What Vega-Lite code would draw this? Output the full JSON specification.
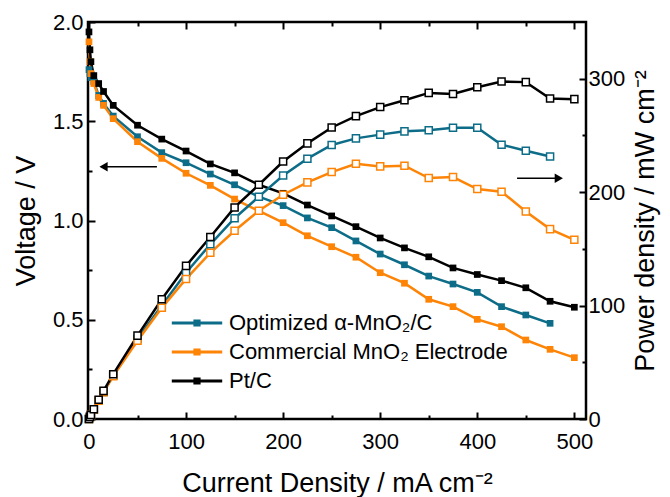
{
  "$schema": "https://vega.github.io/schema/vega-lite/v6.json",
  "width": 498,
  "height": 397,
  "autosize": {"type": "none"},
  "padding": {"left": 88, "top": 22, "right": 84, "bottom": 78},
  "config": {
    "view": {"stroke": "black", "strokeWidth": 2.5},
    "font": "Liberation Sans",
    "axis": {
      "grid": false,
      "domain": false,
      "labelFlush": false,
      "tickColor": "black",
      "tickWidth": 2,
      "labelFont": "Liberation Sans",
      "labelFontSize": 22,
      "labelColor": "black",
      "titleFont": "Liberation Sans",
      "titleFontSize": 27,
      "titleFontWeight": "normal",
      "titleColor": "black"
    }
  },
  "datasets": {
    "curves": [
      {"s": "Optimized α-MnO₂/C", "I": 0, "V": 1.76, "P": 0},
      {"s": "Optimized α-MnO₂/C", "I": 1, "V": 1.74, "P": 1.7},
      {"s": "Optimized α-MnO₂/C", "I": 2, "V": 1.72, "P": 3.4},
      {"s": "Optimized α-MnO₂/C", "I": 5, "V": 1.70, "P": 8.5},
      {"s": "Optimized α-MnO₂/C", "I": 10, "V": 1.63, "P": 16.3},
      {"s": "Optimized α-MnO₂/C", "I": 15, "V": 1.59, "P": 23.8},
      {"s": "Optimized α-MnO₂/C", "I": 25, "V": 1.526, "P": 38.2},
      {"s": "Optimized α-MnO₂/C", "I": 50, "V": 1.422, "P": 70.5},
      {"s": "Optimized α-MnO₂/C", "I": 75, "V": 1.342, "P": 100},
      {"s": "Optimized α-MnO₂/C", "I": 100, "V": 1.291, "P": 129},
      {"s": "Optimized α-MnO₂/C", "I": 125, "V": 1.234, "P": 154},
      {"s": "Optimized α-MnO₂/C", "I": 150, "V": 1.18, "P": 177},
      {"s": "Optimized α-MnO₂/C", "I": 175, "V": 1.12, "P": 196},
      {"s": "Optimized α-MnO₂/C", "I": 200, "V": 1.075, "P": 214.7},
      {"s": "Optimized α-MnO₂/C", "I": 225, "V": 1.013, "P": 229.5},
      {"s": "Optimized α-MnO₂/C", "I": 250, "V": 0.964, "P": 241.6},
      {"s": "Optimized α-MnO₂/C", "I": 275, "V": 0.897, "P": 247.4},
      {"s": "Optimized α-MnO₂/C", "I": 300, "V": 0.831, "P": 250.7},
      {"s": "Optimized α-MnO₂/C", "I": 325, "V": 0.777, "P": 253.6},
      {"s": "Optimized α-MnO₂/C", "I": 350, "V": 0.72, "P": 254.5},
      {"s": "Optimized α-MnO₂/C", "I": 375, "V": 0.68, "P": 256.8},
      {"s": "Optimized α-MnO₂/C", "I": 400, "V": 0.638, "P": 256.8},
      {"s": "Optimized α-MnO₂/C", "I": 425, "V": 0.566, "P": 241.8},
      {"s": "Optimized α-MnO₂/C", "I": 450, "V": 0.524, "P": 236.5},
      {"s": "Optimized α-MnO₂/C", "I": 475, "V": 0.482, "P": 231.5},
      {"s": "Commercial MnO₂ Electrode", "I": 0, "V": 1.90, "P": 0},
      {"s": "Commercial MnO₂ Electrode", "I": 1, "V": 1.80, "P": 1.8},
      {"s": "Commercial MnO₂ Electrode", "I": 2, "V": 1.74, "P": 3.5},
      {"s": "Commercial MnO₂ Electrode", "I": 5, "V": 1.69, "P": 8.4},
      {"s": "Commercial MnO₂ Electrode", "I": 10, "V": 1.62, "P": 16.2},
      {"s": "Commercial MnO₂ Electrode", "I": 15, "V": 1.58, "P": 23.7},
      {"s": "Commercial MnO₂ Electrode", "I": 25, "V": 1.513, "P": 37.8},
      {"s": "Commercial MnO₂ Electrode", "I": 50, "V": 1.397, "P": 69},
      {"s": "Commercial MnO₂ Electrode", "I": 75, "V": 1.313, "P": 98},
      {"s": "Commercial MnO₂ Electrode", "I": 100, "V": 1.238, "P": 123.5},
      {"s": "Commercial MnO₂ Electrode", "I": 125, "V": 1.177, "P": 146.5},
      {"s": "Commercial MnO₂ Electrode", "I": 150, "V": 1.108, "P": 166},
      {"s": "Commercial MnO₂ Electrode", "I": 175, "V": 1.048, "P": 183.6},
      {"s": "Commercial MnO₂ Electrode", "I": 200, "V": 0.989, "P": 197.7},
      {"s": "Commercial MnO₂ Electrode", "I": 225, "V": 0.923, "P": 208.6},
      {"s": "Commercial MnO₂ Electrode", "I": 250, "V": 0.868, "P": 217.7},
      {"s": "Commercial MnO₂ Electrode", "I": 275, "V": 0.815, "P": 225},
      {"s": "Commercial MnO₂ Electrode", "I": 300, "V": 0.737, "P": 222.7},
      {"s": "Commercial MnO₂ Electrode", "I": 325, "V": 0.684, "P": 223.3},
      {"s": "Commercial MnO₂ Electrode", "I": 350, "V": 0.603, "P": 212.4},
      {"s": "Commercial MnO₂ Electrode", "I": 375, "V": 0.566, "P": 213.3},
      {"s": "Commercial MnO₂ Electrode", "I": 400, "V": 0.502, "P": 202.7},
      {"s": "Commercial MnO₂ Electrode", "I": 425, "V": 0.465, "P": 200.4},
      {"s": "Commercial MnO₂ Electrode", "I": 450, "V": 0.398, "P": 183},
      {"s": "Commercial MnO₂ Electrode", "I": 475, "V": 0.351, "P": 167.4},
      {"s": "Commercial MnO₂ Electrode", "I": 500, "V": 0.309, "P": 158},
      {"s": "Pt/C", "I": 0, "V": 1.95, "P": 0},
      {"s": "Pt/C", "I": 1, "V": 1.86, "P": 1.9},
      {"s": "Pt/C", "I": 2, "V": 1.80, "P": 3.6},
      {"s": "Pt/C", "I": 5, "V": 1.73, "P": 8.6},
      {"s": "Pt/C", "I": 10, "V": 1.69, "P": 16.9},
      {"s": "Pt/C", "I": 15, "V": 1.65, "P": 24.8},
      {"s": "Pt/C", "I": 25, "V": 1.58, "P": 39.5},
      {"s": "Pt/C", "I": 50, "V": 1.48, "P": 73.5},
      {"s": "Pt/C", "I": 75, "V": 1.41, "P": 105.5},
      {"s": "Pt/C", "I": 100, "V": 1.35, "P": 135},
      {"s": "Pt/C", "I": 125, "V": 1.285, "P": 160.5},
      {"s": "Pt/C", "I": 150, "V": 1.24, "P": 186.5},
      {"s": "Pt/C", "I": 175, "V": 1.18, "P": 206.5},
      {"s": "Pt/C", "I": 200, "V": 1.137, "P": 227},
      {"s": "Pt/C", "I": 225, "V": 1.078, "P": 243},
      {"s": "Pt/C", "I": 250, "V": 1.023, "P": 257},
      {"s": "Pt/C", "I": 275, "V": 0.969, "P": 267},
      {"s": "Pt/C", "I": 300, "V": 0.912, "P": 275},
      {"s": "Pt/C", "I": 325, "V": 0.862, "P": 281},
      {"s": "Pt/C", "I": 350, "V": 0.817, "P": 287.5},
      {"s": "Pt/C", "I": 375, "V": 0.761, "P": 286.5},
      {"s": "Pt/C", "I": 400, "V": 0.728, "P": 292.5},
      {"s": "Pt/C", "I": 425, "V": 0.697, "P": 297.5},
      {"s": "Pt/C", "I": 450, "V": 0.661, "P": 297},
      {"s": "Pt/C", "I": 475, "V": 0.593, "P": 282.5},
      {"s": "Pt/C", "I": 500, "V": 0.563, "P": 282}
    ],
    "arrows": [
      {"x1": 15, "x2": 70, "tip": 15, "y": 1.271, "dir": "triangle-left"},
      {"x1": 441, "x2": 484, "tip": 484, "y": 1.213, "dir": "triangle-right"}
    ]
  },
  "resolve": {"scale": {"y": "independent"}, "axis": {"x": "independent", "y": "independent"}},
  "layer": [
    {
      "resolve": {"axis": {"x": "independent", "y": "independent"}},
      "layer": [
        {
          "data": {"name": "curves"},
          "mark": {"type": "line", "strokeWidth": 2.5},
          "encoding": {
            "x": {"field": "I", "type": "quantitative", "scale": {"domain": [-1, 512], "nice": false, "zero": false},
                  "axis": {"orient": "bottom", "values": [0, 100, 200, 300, 400, 500], "tickSize": -7, "labelPadding": 19, "title": "Current Density / mA cm⁻²", "titlePadding": 18}},
            "y": {"field": "V", "type": "quantitative", "scale": {"domain": [0, 2], "nice": false},
                  "axis": {"orient": "left", "values": [0, 0.5, 1, 1.5, 2], "format": ".1f", "tickSize": -7, "labelPadding": 12, "title": "Voltage / V", "titlePadding": 12}},
            "color": {"field": "s", "type": "nominal",
                      "scale": {"domain": ["Optimized α-MnO₂/C", "Commercial MnO₂ Electrode", "Pt/C"], "range": ["#0d6d88", "#fd8406", "#000000"]},
                      "legend": {"orient": "none", "legendX": 98, "legendY": 290, "padding": 0, "title": null,
                                 "symbolType": "M-4.2,-0.25H4.2V0.25H-4.2Z M-0.6,-0.6H0.6V0.6H-0.6Z", "symbolSize": 144,
                                 "symbolStrokeWidth": 0, "symbolOpacity": 1, "labelFont": "Liberation Sans", "labelFontSize": 22,
                                 "labelColor": "black", "labelOffset": 21, "labelLimit": 0, "rowPadding": 7}}
          }
        },
        {
          "data": {"name": "curves"},
          "mark": {"type": "point", "shape": "square", "filled": true, "size": 45, "opacity": 1},
          "encoding": {
            "x": {"field": "I", "type": "quantitative", "scale": {"domain": [-1, 512], "nice": false, "zero": false},
                  "axis": {"orient": "bottom", "values": [50, 150, 250, 350, 450], "tickSize": -4, "labels": false, "title": null}},
            "y": {"field": "V", "type": "quantitative", "scale": {"domain": [0, 2], "nice": false},
                  "axis": {"orient": "left", "values": [0.25, 0.75, 1.25, 1.75], "tickSize": -4, "labels": false, "title": null}},
            "color": {"field": "s", "type": "nominal",
                      "legend": {"orient": "none", "legendX": 98, "legendY": 290, "padding": 0, "title": null,
                                 "symbolType": "M-4.2,-0.25H4.2V0.25H-4.2Z M-0.6,-0.6H0.6V0.6H-0.6Z", "symbolSize": 144,
                                 "symbolStrokeWidth": 0, "symbolOpacity": 1, "labelFont": "Liberation Sans", "labelFontSize": 22,
                                 "labelColor": "black", "labelOffset": 21, "labelLimit": 0, "rowPadding": 7}}
          }
        },
        {
          "data": {"name": "arrows"},
          "mark": {"type": "rule", "strokeWidth": 1.5, "color": "black"},
          "encoding": {
            "x": {"field": "x1", "type": "quantitative", "axis": null},
            "x2": {"field": "x2"},
            "y": {"field": "y", "type": "quantitative", "axis": null}
          }
        },
        {
          "data": {"name": "arrows"},
          "mark": {"type": "point", "filled": true, "size": 90, "color": "black", "opacity": 1},
          "encoding": {
            "x": {"field": "tip", "type": "quantitative", "axis": null},
            "y": {"field": "y", "type": "quantitative", "axis": null},
            "shape": {"field": "dir", "type": "nominal", "scale": null, "legend": null}
          }
        }
      ]
    },
    {
      "data": {"name": "curves"},
      "resolve": {"axis": {"x": "independent", "y": "independent"}},
      "layer": [
        {
          "mark": {"type": "line", "strokeWidth": 2.5},
          "encoding": {
            "x": {"field": "I", "type": "quantitative",
                  "axis": {"orient": "top", "values": [0, 100, 200, 300, 400, 500], "tickSize": -7, "labels": false, "title": null}},
            "y": {"field": "P", "type": "quantitative", "scale": {"domain": [0, 350], "nice": false},
                  "axis": {"orient": "right", "values": [0, 100, 200, 300], "tickSize": -7, "labelPadding": 9, "title": "Power density / mW cm⁻²", "titleAngle": 270, "titleBaseline": "top", "titlePadding": 8}},
            "stroke": {"field": "s", "type": "nominal",
                       "scale": {"domain": ["Optimized α-MnO₂/C", "Commercial MnO₂ Electrode", "Pt/C"], "range": ["#0d6d88", "#fd8406", "#000000"]},
                       "legend": null}
          }
        },
        {
          "mark": {"type": "point", "shape": "square", "filled": false, "fill": "white", "fillOpacity": 1, "strokeWidth": 1.5, "size": 50, "opacity": 1},
          "encoding": {
            "x": {"field": "I", "type": "quantitative",
                  "axis": {"orient": "top", "values": [50, 150, 250, 350, 450], "tickSize": -4, "labels": false, "title": null}},
            "y": {"field": "P", "type": "quantitative", "scale": {"domain": [0, 350], "nice": false},
                  "axis": {"orient": "right", "values": [50, 150, 250], "tickSize": -4, "labels": false, "title": null}},
            "stroke": {"field": "s", "type": "nominal", "legend": null}
          }
        }
      ]
    }
  ]
}
